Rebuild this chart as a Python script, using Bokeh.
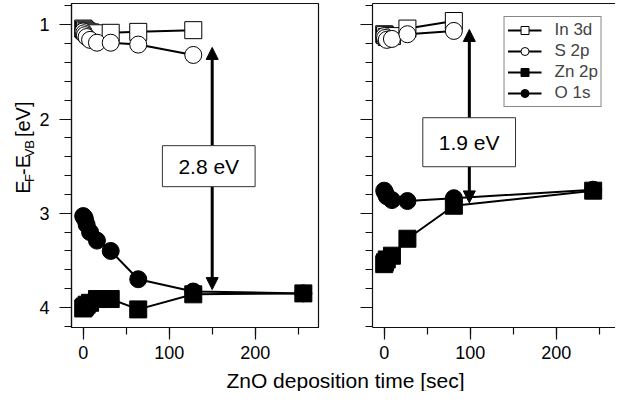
from math import pi
from bokeh.plotting import figure
from bokeh.models import (Range1d, SingleIntervalTicker, FixedTicker, LinearAxis,
                          Legend, LegendItem, Arrow, NormalHead, Label)
from bokeh.layouts import row, column
from bokeh.embed import file_html
from bokeh.resources import INLINE

# ---------------- data ----------------
t_left = [0, 1, 2, 4, 8, 16, 32, 64, 128, 256]
in3d_left = [1.04, 1.05, 1.06, 1.07, 1.08, 1.09, 1.085, 1.075, 1.057]
s2p_left = [1.07, 1.09, 1.11, 1.13, 1.16, 1.19, 1.19, 1.21, 1.32]
zn2p_left = [4.01, 4.00, 3.99, 3.97, 3.95, 3.91, 3.91, 4.02, 3.86, 3.85]
o1s_left = [3.03, 3.04, 3.06, 3.12, 3.20, 3.29, 3.40, 3.70, 3.83, 3.85]

t_right = [0, 1, 3, 9, 27, 81, 243]
in3d_right = [1.10, 1.11, 1.13, 1.12, 1.04, 0.96]
s2p_right = [1.12, 1.14, 1.16, 1.15, 1.10, 1.065]
zn2p_right = [3.54, 3.52, 3.49, 3.45, 3.27, 2.92, 2.76]
o1s_right = [2.76, 2.78, 2.82, 2.86, 2.87, 2.84, 2.75]

series_names = ["In 3d", "S 2p", "Zn 2p", "O 1s"]

# band-offset annotations: (x, top, bottom, text)
gap_left = dict(x=150, top=1.24, bottom=3.81, text="2.8 eV")
gap_right = dict(x=99, top=1.05, bottom=2.89, text="1.9 eV")

x_label = "ZnO deposition time [sec]"
# y label "E_F-E_VB [eV]" as (text, is_subscript, gap_before_in_em)
y_label_parts = [("E", False, 0), ("F", True, 0), ("-E", False, 0), ("VB", True, 0), ("[eV]", False, 0.278)]

FONT = "Liberation Sans"
X_RANGE_START = -13.6
PX_PER_UNIT = 0.86
Y_BOTTOM, Y_TOP = 4.212, 0.774
FIG_H = 367


def make_fig(frame_w, mb_left, mb_right, show_ylabels):
    p = figure(frame_width=frame_w, frame_height=324,
               x_range=Range1d(X_RANGE_START, X_RANGE_START + frame_w / PX_PER_UNIT),
               y_range=Range1d(Y_BOTTOM, Y_TOP),
               toolbar_location=None, output_backend="svg",
               min_border_left=mb_left, min_border_right=mb_right,
               min_border_top=3, min_border_bottom=40,
               background_fill_color="white", border_fill_color="white")
    p.grid.visible = False
    p.outline_line_color = "#111111"
    p.outline_line_width = 1.2
    for ax in (p.xaxis[0], p.yaxis[0]):
        ax.axis_line_color = "#111111"
        ax.axis_line_width = 1.2
        ax.major_tick_line_color = "#111111"
        ax.minor_tick_line_color = "#111111"
        ax.major_tick_line_width = 1.2
        ax.minor_tick_line_width = 1.2
        ax.major_tick_in = 0
        ax.minor_tick_in = 0
        ax.major_tick_out = 12
        ax.minor_tick_out = 7
        ax.major_label_text_font = FONT
        ax.major_label_text_font_size = "18px"
        ax.major_label_text_color = "black"
    p.xaxis.ticker = SingleIntervalTicker(interval=100, num_minor_ticks=2)
    p.yaxis.ticker = SingleIntervalTicker(interval=1, num_minor_ticks=5)
    p.xaxis.major_label_standoff = 6
    p.yaxis.major_label_standoff = 10
    if not show_ylabels:
        p.yaxis.major_label_overrides = {1: "", 2: "", 3: "", 4: ""}
    return p


def draw_series(p, t, ins, s2, zn, o1):
    rs = {}
    specs = [
        ("In 3d", ins, "square", "white"),
        ("S 2p", s2, "circle", "white"),
        ("O 1s", o1, "circle", "black"),
        ("Zn 2p", zn, "square", "black"),
    ]
    for name, ys, marker, fill in specs:
        xs = t[:len(ys)]
        l = p.line(xs, ys, line_color="black", line_width=2)
        s = p.scatter(xs, ys, marker=marker, size=17, fill_color=fill,
                      line_color="black", line_width=1)
        rs[name] = [l, s]
    return rs


def add_gap(p, g, cx, cy, pad_v):
    p.add_layout(Arrow(x_start=g["x"], y_start=g["top"], x_end=g["x"], y_end=g["bottom"],
                       line_width=3, line_color="black",
                       start=NormalHead(size=12, fill_color="black", line_color="black"),
                       end=NormalHead(size=12, fill_color="black", line_color="black")))
    p.add_layout(Label(x=cx, y=cy, text=g["text"], text_align="center",
                       text_baseline="middle", text_font=FONT, text_font_size="21px",
                       text_color="black",
                       background_fill_color="white", background_fill_alpha=1,
                       border_line_color="#333333", border_line_width=1,
                       padding=dict(left=16, right=16, top=pad_v, bottom=pad_v)))


# ---------------- y-axis title (separate strip) ----------------
YW = 36
py = figure(width=YW, height=FIG_H, x_range=Range1d(0, YW), y_range=Range1d(0, FIG_H),
            toolbar_location=None, output_backend="svg", min_border=0,
            x_axis_type=None, y_axis_type=None, outline_line_color=None)
py.grid.visible = False
adv = {"E": 0.667, "F": 0.611, "-": 0.333, "V": 0.667, "B": 0.667, " ": 0.278,
       "[": 0.278, "]": 0.278, "e": 0.556}
ypos = 151.5
for txt, sub, gap in y_label_parts:
    size = 13 if sub else 20
    ypos += gap * size
    py.add_layout(Label(x=29.0 if sub else 22.0, y=ypos,
                        text=txt, angle=pi / 2, text_align="left", text_baseline="middle",
                        text_font=FONT, text_font_size=f"{size}px", text_color="black"))
    ypos += sum(adv.get(c, 0.556) for c in txt) * size

# ---------------- left panel ----------------
p1 = make_fig(247, 35, 20, True)
draw_series(p1, t_left, in3d_left, s2p_left, zn2p_left, o1s_left)
add_gap(p1, gap_left, 146, 2.50, 9)

# ---------------- right panel ----------------
p2 = make_fig(243, 34, 0, False)
p2.outline_line_color = None
top_axis = LinearAxis(ticker=FixedTicker(ticks=[]), axis_line_color="#111111", axis_line_width=1.2,
                      major_tick_line_color=None, minor_tick_line_color=None,
                      major_label_text_font_size="0px")
p2.add_layout(top_axis, "above")
rs = draw_series(p2, t_right, in3d_right, s2p_right, zn2p_right, o1s_right)
add_gap(p2, gap_right, 98.8, 2.246, 13)

legend = Legend(items=[LegendItem(label=n, renderers=rs[n]) for n in series_names],
                location="top_right", margin=13, padding=3, spacing=1,
                glyph_width=34, glyph_height=20, label_height=20, label_standoff=13,
                label_text_font=FONT, label_text_font_size="17px",
                border_line_color="#111111", border_line_width=1,
                background_fill_color="white", background_fill_alpha=1)
p2.add_layout(legend)

# ---------------- common x title ----------------
pt = figure(width=615, height=24, x_range=Range1d(0, 615), y_range=Range1d(0, 24),
            toolbar_location=None, output_backend="svg", min_border=0,
            x_axis_type=None, y_axis_type=None, outline_line_color=None)
pt.grid.visible = False
pt.add_layout(Label(x=345, y=11.5, text=x_label, text_align="center", text_baseline="middle",
                    text_font=FONT, text_font_size="21px", text_color="black"))

layout = column(row(py, p1, p2), pt)
open("out.html", "w").write(file_html(layout, INLINE))
